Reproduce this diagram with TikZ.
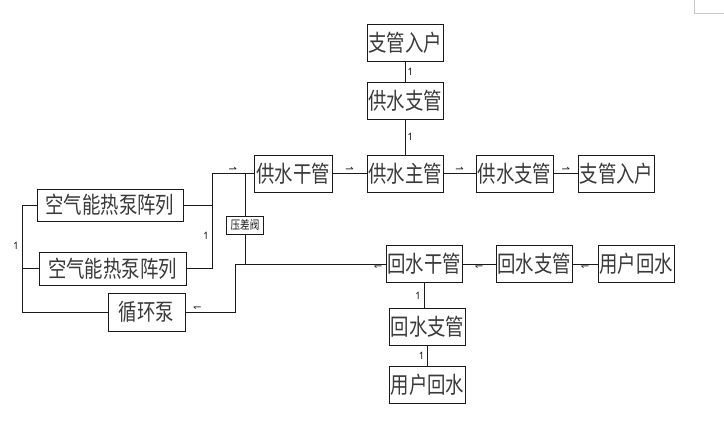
\documentclass[tikz,border=0pt]{standalone}
\usepackage{fontspec}
\newfontfamily\cjk[FakeStretch=0.8]{Noto Sans CJK SC}
\newfontfamily\symf{DejaVu Sans}
\usetikzlibrary{positioning, calc}
\definecolor{cline}{HTML}{1A1A1A}
\definecolor{ctext}{HTML}{3A3A3A}
\definecolor{cmark}{HTML}{C8C8C8}
\tikzset{
  every picture/.style={line width=0.9pt},
  box/.style={draw=cline, fill=white, inner sep=0pt, minimum width=#1, minimum height=37pt, text=ctext, font=\cjk\fontsize{23}{23}\selectfont},
  box/.default=76pt,
  pipe/.style={draw=cline},
  flow/.style={font=\symf\fontsize{10}{10}\selectfont, text=cline, inner sep=1pt},
}

\begin{document}
\begin{tikzpicture}[x=1pt, y=-1pt,
  valve/.style={draw=cline, fill=white, inner sep=1.5pt, minimum width=37pt, minimum height=18pt, text=cline, font=\cjk\fontsize{12}{12}\selectfont}]
  \useasboundingbox (0,0) rectangle (724,426);
  % supply side
  \node[box] (inTop) at (405,42.5) {支管入户};
  \node[box] (brTop) at (405,101) {供水支管};
  \node[box] (supMain) at (405,173.5) {供水主管};
  \node[box=78pt] (supTrunk) at (293,173.5) {供水干管};
  \node[box=77pt] (brRight) at (514.5,173.5) {供水支管};
  \node[box] (inRight) at (616.5,173.5) {支管入户};
  % heat source
  \node[box=146pt, minimum height=32pt] (hpA) at (110,205) {空气能热泵阵列};
  \node[box=147pt, minimum height=33pt] (hpB) at (112.5,268.5) {空气能热泵阵列};
  \node[box=77pt, minimum height=38pt] (pump) at (146.5,312) {循环泵};
  \node[valve] (valve) at (245,225) {压差阀};
  % return side
  \node[box] (retTrunk) at (424,264) {回水干管};
  \node[box] (retBr) at (534,264) {回水支管};
  \node[box] (userR) at (636,264) {用户回水};
  \node[box] (retBrDown) at (427.5,327) {回水支管};
  \node[box] (userDown) at (427.5,385) {用户回水};
  % junctions
  \coordinate (busL) at (22,205);
  \coordinate (busLb) at (22,312);
  \coordinate (busR) at (212,173.5);
  \coordinate (valveTop) at (245,173.5);
  \coordinate (valveBot) at (245,264);
  \coordinate (retTurn) at (235,264);
  \coordinate (retLow) at (235,312);
  % supply pipes
  \draw[pipe] (brTop) -- node[flow, right] {↿} (inTop);
  \draw[pipe] (supMain) -- node[flow, right] {↿} (brTop);
  \draw[pipe] (supTrunk) -- node[flow, above] {⇀} (supMain);
  \draw[pipe] (supMain) -- node[flow, above] {⇀} (brRight);
  \draw[pipe] (brRight) -- node[flow, above] {⇀} (inRight);
  % heat pump manifolds
  \draw[pipe] (pump.west) -- (busLb) -- node[flow, left, pos=0.62] {↿} (busL) -- (hpA.west);
  \draw[pipe] (hpB.west) -- (hpB.west -| busL);
  \draw[pipe] (hpB.east) -| node[flow, left, pos=0.67] {↿} (busR) -- node[flow, above] {⇀} (supTrunk.west);
  \draw[pipe] (hpA.east) -- (hpA.east -| busR);
  \draw[pipe] (valveTop) -- (valve) -- (valveBot);
  % return pipes
  \draw[pipe] (retTrunk.west) -- node[flow, below, pos=0.05] {↽} (retTurn) -- (retLow) -- node[flow, above, pos=0.76] {↽} (pump.east);
  \draw[pipe] (retBr) -- node[flow, below] {↽} (retTrunk);
  \draw[pipe] (userR) -- node[flow, below] {↽} (retBr);
  \draw[pipe] (retBrDown.north -| retTrunk.south) -- node[flow, left] {↿} (retTrunk.south);
  \draw[pipe] (userDown) -- node[flow, left] {↿} (retBrDown);
  % page corner
  \draw[cmark, line width=0.6pt] (694,0) -- (694,13) -- (724,13);
\end{tikzpicture}
\end{document}
